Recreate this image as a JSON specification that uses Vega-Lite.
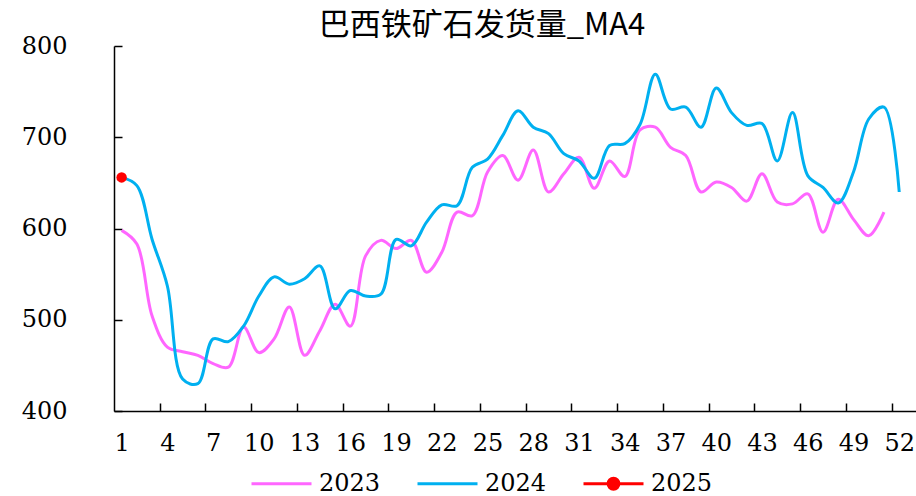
{
  "$schema": "https://vega.github.io/schema/vega-lite/v6.json",
  "width": 802,
  "height": 365,
  "padding": {"left": 21, "top": 10, "right": 0, "bottom": 0},
  "autosize": {"type": "pad"},
  "background": "white",
  "title": {"text": "巴西铁矿石发货量_MA4", "font": "Noto Sans CJK SC", "fontSize": 31, "fontWeight": "normal", "color": "#000000", "anchor": "middle", "frame": "group", "dx": -33, "offset": -8},
  "config": {
    "view": {"stroke": null},
    "axis": {"labelFont": "DejaVu Serif", "labelFontSize": 24, "labelColor": "#000000", "domainColor": "#000000", "tickColor": "#000000", "domainWidth": 1.5, "tickWidth": 1.5, "grid": false, "title": null},
    "legend": {"labelFont": "DejaVu Serif", "labelFontSize": 24, "labelColor": "#000000"}
  },
  "datasets": {
    "main": [
      {"w":1,"y":"2023","v":598},{"w":2,"y":"2023","v":583},{"w":3,"y":"2023","v":504},{"w":4,"y":"2023","v":470},{"w":5,"y":"2023","v":465},{"w":6,"y":"2023","v":461},{"w":7,"y":"2023","v":452},{"w":8,"y":"2023","v":448},{"w":9,"y":"2023","v":492},{"w":10,"y":"2023","v":464},
      {"w":11,"y":"2023","v":479},{"w":12,"y":"2023","v":514},{"w":13,"y":"2023","v":461},{"w":14,"y":"2023","v":488},{"w":15,"y":"2023","v":517},{"w":16,"y":"2023","v":493},{"w":17,"y":"2023","v":570},{"w":18,"y":"2023","v":587},{"w":19,"y":"2023","v":578},{"w":20,"y":"2023","v":587},
      {"w":21,"y":"2023","v":552},{"w":22,"y":"2023","v":574},{"w":23,"y":"2023","v":618},{"w":24,"y":"2023","v":614},{"w":25,"y":"2023","v":662},{"w":26,"y":"2023","v":680},{"w":27,"y":"2023","v":653},{"w":28,"y":"2023","v":686},{"w":29,"y":"2023","v":640},{"w":30,"y":"2023","v":660},
      {"w":31,"y":"2023","v":678},{"w":32,"y":"2023","v":644},{"w":33,"y":"2023","v":674},{"w":34,"y":"2023","v":657},{"w":35,"y":"2023","v":708},{"w":36,"y":"2023","v":711},{"w":37,"y":"2023","v":689},{"w":38,"y":"2023","v":680},{"w":39,"y":"2023","v":640},{"w":40,"y":"2023","v":651},
      {"w":41,"y":"2023","v":645},{"w":42,"y":"2023","v":630},{"w":43,"y":"2023","v":660},{"w":44,"y":"2023","v":629},{"w":45,"y":"2023","v":627},{"w":46,"y":"2023","v":638},{"w":47,"y":"2023","v":596},{"w":48,"y":"2023","v":632},{"w":49,"y":"2023","v":610},{"w":50,"y":"2023","v":592},{"w":51,"y":"2023","v":618},
      {"w":1,"y":"2024","v":656},{"w":2,"y":"2024","v":647},{"w":3,"y":"2024","v":588},{"w":4,"y":"2024","v":537},{"w":5,"y":"2024","v":435},{"w":6,"y":"2024","v":430},{"w":7,"y":"2024","v":479},{"w":8,"y":"2024","v":476},{"w":9,"y":"2024","v":493},{"w":10,"y":"2024","v":526},
      {"w":11,"y":"2024","v":547},{"w":12,"y":"2024","v":539},{"w":13,"y":"2024","v":545},{"w":14,"y":"2024","v":559},{"w":15,"y":"2024","v":512},{"w":16,"y":"2024","v":532},{"w":17,"y":"2024","v":526},{"w":18,"y":"2024","v":528},{"w":19,"y":"2024","v":588},{"w":20,"y":"2024","v":581},
      {"w":21,"y":"2024","v":607},{"w":22,"y":"2024","v":626},{"w":23,"y":"2024","v":625},{"w":24,"y":"2024","v":667},{"w":25,"y":"2024","v":676},{"w":26,"y":"2024","v":702},{"w":27,"y":"2024","v":729},{"w":28,"y":"2024","v":711},{"w":29,"y":"2024","v":704},{"w":30,"y":"2024","v":682},
      {"w":31,"y":"2024","v":674},{"w":32,"y":"2024","v":655},{"w":33,"y":"2024","v":691},{"w":34,"y":"2024","v":693},{"w":35,"y":"2024","v":714},{"w":36,"y":"2024","v":769},{"w":37,"y":"2024","v":731},{"w":38,"y":"2024","v":733},{"w":39,"y":"2024","v":711},{"w":40,"y":"2024","v":754},
      {"w":41,"y":"2024","v":727},{"w":42,"y":"2024","v":713},{"w":43,"y":"2024","v":715},{"w":44,"y":"2024","v":674},{"w":45,"y":"2024","v":727},{"w":46,"y":"2024","v":658},{"w":47,"y":"2024","v":645},{"w":48,"y":"2024","v":628},{"w":49,"y":"2024","v":662},{"w":50,"y":"2024","v":720},{"w":51,"y":"2024","v":733},{"w":52,"y":"2024","v":640},
      {"w":1,"y":"2025","v":656}
    ]
  },
  "data": {"name": "main"},
  "resolve": {"axis": {"x": "independent"}},
  "layer": [
    {
      "mark": {"type": "line", "interpolate": "catmull-rom", "strokeWidth": 3},
      "encoding": {
        "x": {"field": "w", "type": "quantitative", "scale": {"domain": [0.5, 53.1], "nice": false, "zero": false},
              "axis": {"orient": "bottom", "values": [1,4,7,10,13,16,19,22,25,28,31,34,37,40,43,46,49,52], "ticks": false, "labelPadding": 20, "labelFlush": false, "labelOverlap": false}},
        "y": {"field": "v", "type": "quantitative", "scale": {"domain": [400, 800], "nice": false, "zero": false},
              "axis": {"values": [400,500,600,700,800], "tickSize": -8, "labelPadding": 55, "labelFlush": false}},
        "color": {"field": "y", "type": "nominal",
                  "scale": {"domain": ["2023","2024","2025"], "range": ["#FF66FF","#00B0F0","#FF0000"]},
                  "legend": {"orient": "none", "legendX": 136, "legendY": 406, "direction": "horizontal", "title": null,
                             "symbolType": "stroke", "symbolSize": 3600, "symbolStrokeWidth": 3, "labelOffset": 6, "columnPadding": 30,
                             "encode": {"symbols": {"update": {
                               "shape": {"signal": "datum.value === '2025' ? 'M-1,0H1M0.18,0A0.18,0.18,0,1,1,-0.18,0A0.18,0.18,0,1,1,0.18,0Z' : 'stroke'"},
                               "fill": {"signal": "datum.value === '2025' ? '#FF0000' : 'transparent'"}}}}}}
      }
    },
    {
      "transform": [{"filter": "datum.y === '2025'"}],
      "mark": {"type": "point", "filled": true, "size": 110, "color": "#FF0000", "opacity": 1},
      "encoding": {
        "x": {"field": "w", "type": "quantitative",
              "axis": {"orient": "bottom", "values": [3.5,6.5,9.5,12.5,15.5,18.5,21.5,24.5,27.5,30.5,33.5,36.5,39.5,42.5,45.5,48.5,51.5], "labels": false, "domain": false, "tickSize": -8}},
        "y": {"field": "v", "type": "quantitative"}
      }
    }
  ]
}
